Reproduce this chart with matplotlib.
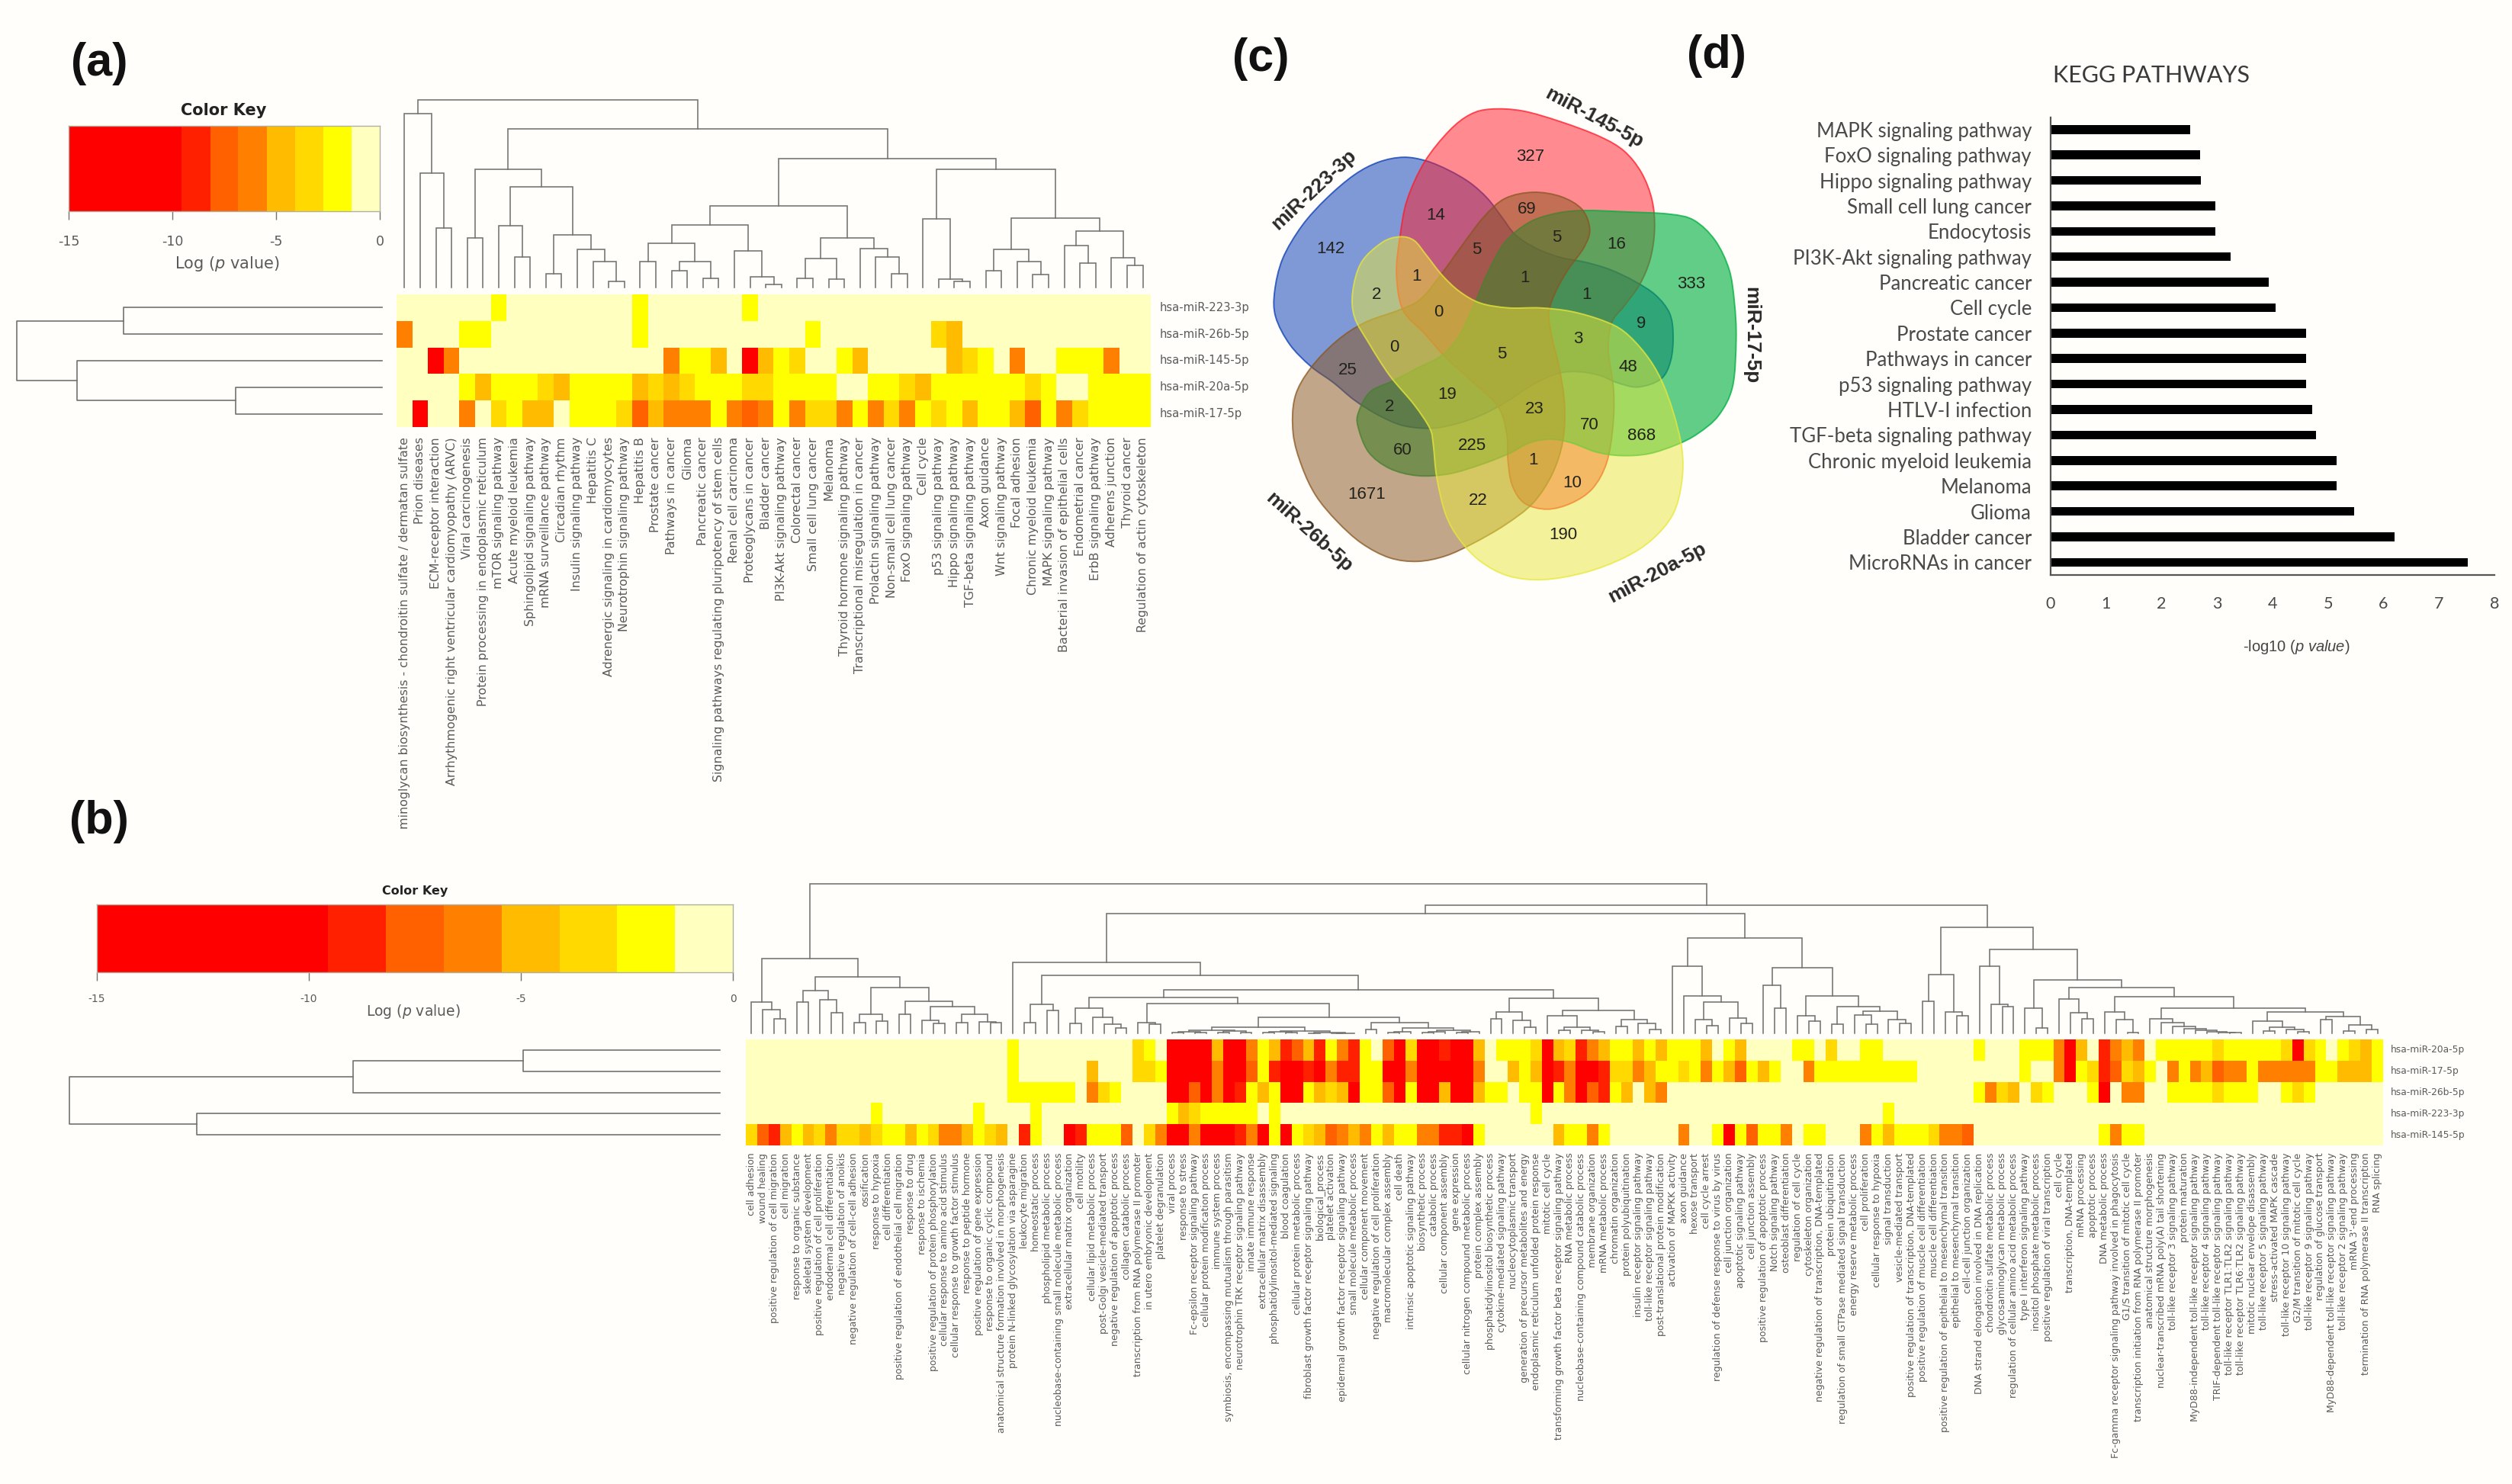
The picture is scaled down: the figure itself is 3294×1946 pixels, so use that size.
import numpy as np
import matplotlib
matplotlib.use("Agg")
import matplotlib.pyplot as plt
from matplotlib.colors import ListedColormap, BoundaryNorm
from matplotlib.patches import PathPatch
from matplotlib.path import Path

W, H = 3294, 1946
plt.rcParams['axes.unicode_minus'] = False
plt.rcParams['mathtext.fontset'] = 'dejavusans'
plt.rcParams['mathtext.it'] = 'Liberation Sans:italic'

# ---------------- colour key ----------------
KEY_BREAKS = [-15, -9.55, -8.18, -6.82, -5.45, -4.09, -2.73, -1.36, 0]
KEY_COLORS = ['#FF0000', '#FF2000', '#FF6000', '#FF8000', '#FFBB00', '#FFD900', '#FFFF00', '#FFFFBF']
# estimated Log(p) for each colour class 0 (pale) .. 7 (red)
CLASS_LOGP = [-0.7, -2.0, -3.4, -4.8, -6.1, -7.5, -8.9, -12.0]

# ---------------- panel (a) ----------------
A_MIRNAS = ['hsa-miR-223-3p', 'hsa-miR-26b-5p', 'hsa-miR-145-5p', 'hsa-miR-20a-5p', 'hsa-miR-17-5p']
A_TERMS = ['minoglycan biosynthesis - chondroitin sulfate / dermatan sulfate', 'Prion diseases',
 'ECM-receptor interaction', 'Arrhythmogenic right ventricular cardiomyopathy (ARVC)', 'Viral carcinogenesis',
 'Protein processing in endoplasmic reticulum', 'mTOR signaling pathway', 'Acute myeloid leukemia',
 'Sphingolipid signaling pathway', 'mRNA surveillance pathway', 'Circadian rhythm', 'Insulin signaling pathway',
 'Hepatitis C', 'Adrenergic signaling in cardiomyocytes', 'Neurotrophin signaling pathway', 'Hepatitis B',
 'Prostate cancer', 'Pathways in cancer', 'Glioma', 'Pancreatic cancer',
 'Signaling pathways regulating pluripotency of stem cells', 'Renal cell carcinoma', 'Proteoglycans in cancer',
 'Bladder cancer', 'PI3K-Akt signaling pathway', 'Colorectal cancer', 'Small cell lung cancer', 'Melanoma',
 'Thyroid hormone signaling pathway', 'Transcriptional misregulation in cancer', 'Prolactin signaling pathway',
 'Non-small cell lung cancer', 'FoxO signaling pathway', 'Cell cycle', 'p53 signaling pathway',
 'Hippo signaling pathway', 'TGF-beta signaling pathway', 'Axon guidance', 'Wnt signaling pathway',
 'Focal adhesion', 'Chronic myeloid leukemia', 'MAPK signaling pathway', 'Bacterial invasion of epithelial cells',
 'Endometrial cancer', 'ErbB signaling pathway', 'Adherens junction', 'Thyroid cancer',
 'Regulation of actin cytoskeleton']
A_223 = "6:1 15:1 22:1"
A_26B = "0:4 4-5:1 15:1 26:1 34:2 35:3"
A_145 = "2:7 3:4 17:4 18-19:1 20:3 22:7 23:3 24:1 25:2 28:1 29:3 35:3 36:2 37:1 39:4 42-44:1 45:4"
A_20A = "4:1 5:3 6-8:1 9:2 10:3 11-14:1 15:3 16:2 17:3 18:2 19-21:1 22-23:2 24-27:1 30-31:1 32:2 33:3 34-39:1 40:2 41:1 44-47:1"
A_17 = ("1:7 4:4 6:2 7:1 8-9:3 11-13:1 14:2 15:5 16:3 17:4 18-19:4 20:1 21:4 22:5 23:4 24:1 25:4 26-27:2 28:4 29:1 "
        "30:4 31:2 32:4 33:1 34:2 35:1 36:3 37-38:1 39:3 40:5 41:1 42:4 43:2 44-47:1")
# dendrogram nodes: (level, left, right); integer = leaf column
A_TREE = (93,
  (146, 0, (382, 1, (598, 2, 3))),
  (207,
    (367, (637, 4, 5),
      (436, (587, 6, (710, 7, 8)),
        (624, (778, 9, 10), (682, 11, (730, 12, (808, 13, 14)))))),
    (325,
      (509,
        (584,
          (656, (730, 15, 16), (730, (766, 17, 18), (794, 19, 20))),
          (688, 21, (790, 22, (818, 23, 24)))),
        (637,
          (718, (796, 25, 26), (798, 27, 28)),
          (677, 29, (712, 30, (777, 31, 32))))),
      (367,
        (562, 33, (798, 34, (806, 35, 36))),
        (557,
          (682, (764, 37, 38), (730, 39, (780, 40, 41))),
          (608, (666, 42, (736, 43, 44)), (714, 45, (744, 46, 47))))))))
A_TREE_BASE = 830
A_ROW_TREE = (479, (339, 0, 1), (400, 2, (192, 3, 4)))

# ---------------- panel (b) ----------------
B_MIRNAS = ['hsa-miR-20a-5p', 'hsa-miR-17-5p', 'hsa-miR-26b-5p', 'hsa-miR-223-3p', 'hsa-miR-145-5p']
B_TERMS = ['cell adhesion', 'wound healing', 'positive regulation of cell migration', 'cell migration',
 'response to organic substance', 'skeletal system development', 'positive regulation of cell proliferation',
 'endodermal cell differentiation', 'negative regulation of anoikis', 'negative regulation of cell-cell adhesion',
 'ossification', 'response to hypoxia', 'cell differentiation', 'positive regulation of endothelial cell migration',
 'response to drug', 'response to ischemia', 'positive regulation of protein phosphorylation',
 'cellular response to amino acid stimulus', 'cellular response to growth factor stimulus',
 'response to peptide hormone', 'positive regulation of gene expression', 'response to organic cyclic compound',
 'anatomical structure formation involved in morphogenesis', 'protein N-linked glycosylation via asparagine',
 'leukocyte migration', 'homeostatic process', 'phospholipid metabolic process',
 'nucleobase-containing small molecule metabolic process', 'extracellular matrix organization', 'cell motility',
 'cellular lipid metabolic process', 'post-Golgi vesicle-mediated transport', 'negative regulation of apoptotic process',
 'collagen catabolic process', 'transcription from RNA polymerase II promoter', 'in utero embryonic development',
 'platelet degranulation', 'viral process', 'response to stress', 'Fc-epsilon receptor signaling pathway',
 'cellular protein modification process', 'immune system process', 'symbiosis, encompassing mutualism through parasitism',
 'neurotrophin TRK receptor signaling pathway', 'innate immune response', 'extracellular matrix disassembly',
 'phosphatidylinositol-mediated signaling', 'blood coagulation', 'cellular protein metabolic process',
 'fibroblast growth factor receptor signaling pathway', 'biological_process', 'platelet activation',
 'epidermal growth factor receptor signaling pathway', 'small molecule metabolic process', 'cellular component movement',
 'negative regulation of cell proliferation', 'macromolecular complex assembly', 'cell death',
 'intrinsic apoptotic signaling pathway', 'biosynthetic process', 'catabolic process', 'cellular component assembly',
 'gene expression', 'cellular nitrogen compound metabolic process', 'protein complex assembly',
 'phosphatidylinositol biosynthetic process', 'cytokine-mediated signaling pathway', 'nucleocytoplasmic transport',
 'generation of precursor metabolites and energy', 'endoplasmic reticulum unfolded protein response', 'mitotic cell cycle',
 'transforming growth factor beta receptor signaling pathway', 'RNA metabolic process',
 'nucleobase-containing compound catabolic process', 'membrane organization', 'mRNA metabolic process',
 'chromatin organization', 'protein polyubiquitination', 'insulin receptor signaling pathway',
 'toll-like receptor signaling pathway', 'post-translational protein modification', 'activation of MAPKK activity',
 'axon guidance', 'hexose transport', 'cell cycle arrest', 'regulation of defense response to virus by virus',
 'cell junction organization', 'apoptotic signaling pathway', 'cell junction assembly',
 'positive regulation of apoptotic process', 'Notch signaling pathway', 'osteoblast differentiation',
 'regulation of cell cycle', 'cytoskeleton organization', 'negative regulation of transcription, DNA-templated',
 'protein ubiquitination', 'regulation of small GTPase mediated signal transduction', 'energy reserve metabolic process',
 'cell proliferation', 'cellular response to hypoxia', 'signal transduction', 'vesicle-mediated transport',
 'positive regulation of transcription, DNA-templated', 'positive regulation of muscle cell differentiation',
 'muscle cell differentiation', 'positive regulation of epithelial to mesenchymal transition',
 'epithelial to mesenchymal transition', 'cell-cell junction organization',
 'DNA strand elongation involved in DNA replication', 'chondroitin sulfate metabolic process',
 'glycosaminoglycan metabolic process', 'regulation of cellular amino acid metabolic process',
 'type I interferon signaling pathway', 'inositol phosphate metabolic process', 'positive regulation of viral transcription',
 'cell cycle', 'transcription, DNA-templated', 'mRNA processing', 'apoptotic process', 'DNA metabolic process',
 'Fc-gamma receptor signaling pathway involved in phagocytosis', 'G1/S transition of mitotic cell cycle',
 'transcription initiation from RNA polymerase II promoter', 'anatomical structure morphogenesis',
 'nuclear-transcribed mRNA poly(A) tail shortening', 'toll-like receptor 3 signaling pathway', 'protein maturation',
 'MyD88-independent toll-like receptor signaling pathway', 'toll-like receptor 4 signaling pathway',
 'TRIF-dependent toll-like receptor signaling pathway', 'toll-like receptor TLR1:TLR2 signaling pathway',
 'toll-like receptor TLR6:TLR2 signaling pathway', 'mitotic nuclear envelope disassembly',
 'toll-like receptor 5 signaling pathway', 'stress-activated MAPK cascade', 'toll-like receptor 10 signaling pathway',
 'G2/M transition of mitotic cell cycle', 'toll-like receptor 9 signaling pathway', 'regulation of glucose transport',
 'MyD88-dependent toll-like receptor signaling pathway', 'toll-like receptor 2 signaling pathway',
 "mRNA 3'-end processing", 'termination of RNA polymerase II transcription', 'RNA splicing']
B_20A = ("23:1 34:2 35:1 37-40:7 41:3 42-43:7 44:4 45:1 46:3 47:6 48:5 49:3 50:6 51:1 52:4 53:6 54:1 56:5 57:7 58:2 "
         "59-60:7 61:6 62-63:7 64:3 66-68:1 69:2 70:7 71:3 72:2 73:6 74:4 75:3 76-77:1 78:3 79:1 80:3 81-83:1 84:3 "
         "86:1 87:3 92-93:1 95:2 98-99:1 108:1 112-114:1 115:4 116:7 117:3 119:6 120:4 121:3 122:4 124-128:1 129:2 "
         "130-134:1 135:2 136:7 137:2 138:1 140:1 141:2 142:3 143:1")
B_17 = ("23:1 30:3 34-35:2 36:1 37-40:7 41:4 42-43:7 44:5 45:1 46:6 47-48:7 49:6 50:7 51:4 52-53:6 54-55:1 56-57:7 58:4 "
        "59-63:7 64:4 67:3 68:1 69:3 70:7 71:6 72:4 73-74:7 75:6 76-77:2 78:4 79:3 80-81:1 82:2 83:1 84:4 85:1 86:3 87:5 "
        "88:1 89:3 90:1 93:4 94-102:1 112:1 115:4 116:7 117:1 118:2 119:6 120:5 121:2 122:3 123:1 125:4 126:1 127:4 128:3 "
        "129:5 130-131:4 132:1 133-137:4 138-139:1 140-142:3 143:1")
B_26B = ("23-28:1 30:4 31:2 32:1 37-38:7 39:5 40:7 41:4 42:7 43:6 44:1 45:3 46:1 47-48:7 49:1 50:3 51:2 52:3 53:7 54-55:1 "
         "56:5 57:7 58:1 59-60:7 61:3 62-63:7 64:3 65-66:1 68-69:1 70:7 71:1 72:4 73:7 74:5 75:6 76:1 77:3 79:3 80:4 108:1 "
         "109:4 110:2 111:3 113:2 114:1 118:1 119:7 121-122:4 125-128:1 129:2 130-132:1 135:1 136:2 137:1")
B_223 = "11:1 20:1 25:1 37:1 38:3 39:2 40-44:1 46:1 69:1 100:1"
B_145 = ("0:2 1:5 2:6 3:3 4:1 5:3 6:2 7:4 8-9:2 10:3 11:2 12-13:1 14:3 15:1 16:2 17-18:4 19:3 20:1 21:2 22:3 24:6 25:1 28:7 "
         "29:6 30-32:1 33:5 35:2 36:4 37-38:7 39:4 40-42:7 43:6 44:4 45:7 46:1 47:7 48:1 49:2 50:3 51:5 52:4 53:3 54:4 55:1 "
         "56:3 57-58:1 59-60:4 61-62:6 63:7 64:1 71:3 72-73:1 74:4 75:1 82:4 85:1 86:7 87:1 88:5 89-90:1 91:4 93-94:1 98:4 "
         "99:1 100:3 101-103:1 104:2 105-106:4 107:5 119:1 120:4 121-122:1")
B_TREE = (27,
  (320,
    (493, 0, (522, 1, (557, 2, 3))),
    (393,
      (446, (493, 4, 5), (484, 6, (535, 7, 8))),
      (436,
        (541, (574, 9, 10), (568, 11, 12)),
        (488, (541, 13, 14),
          (510, (565, 15, (577, 16, 17)),
            (539, (573, 18, 19), (569, 20, (573, 21, 22)))))))),
  (110,
    (143,
      (337, 23,
        (388,
          (501, (574, 24, 25), (524, 26, 27)),
          (444,
            (473,
              (515, (577, 28, 29), (552, 30, (580, 31, (594, 32, 33)))),
              (497,
                (573, 34, (580, 35, 36)),
                (551,
                  (592,
                    (604, (609, (613, 37, 38), (613, 39, 40)), (606, (612, 41, 42), (612, 43, 44))),
                    (606, (608, (611, 45, 46), (613, 47, 48)), (611, (614, 49, 50), (615, (615, 51, 52), 53)))),
                  (572,
                    (600, 54, 55),
                    (593,
                      (608, (612, 56, 57), 58),
                      (604, (608, (612, 59, 60), 61), (608, (611, 62, 63), 64))))))),
            (478,
              (530, (557, 65, 66), (563, 67, (590, 68, 69))),
              (525,
                (546, 70, (590, (604, 71, 72), (604, 73, (609, 74, 75)))),
                (562, (587, 76, 77), (575, 78, (600, 79, 80)))))))),
      (241,
        (352, 81, (467, 82, (493, (562, 83, (585, 84, 85)), (555, 86, (575, 87, 88))))),
        (358,
          (425, 89, (515, 90, 91)),
          (469,
            (545, 92, (568, 93, 94)),
            (510, (580, 95, 96),
              (527, (543, 97, (578, 98, 99)), (562, 100, (577, 101, 102)))))))),
    (197,
      (384, (488, 103, 104), (532, 105, (546, 106, 107))),
      (286,
        (352, 108, (500, 109, (510, 110, 111))),
        (405,
          (515, 112, (593, 113, 114)),
          (436,
            (480, 115, (535, 116, (558, 117, 118))),
            (472,
              (532, 119, (562, 120, (612, 121, 122))),
              (515,
                (557, 123, (573, 124, (588, 125, (597, 126, (604, 127, (608, 128, (611, 129, (613, 130, 131)))))))),
                (530,
                  (568, 132, (590, (605, 133, 134), (600, 135, (610, 136, 137)))),
                  (550, (562, 138, 139), (582, (607, 140, 141), (600, 142, 143))))))))))))
B_TREE_BASE = 616
B_ROW_TREE = (853, (481, (258, 0, 1), 2), (686, 3, 4))

# ---------------- panel (c) ----------------
VENN_BLUE = [(480,222),(545,232),(610,258),(670,292),(720,335),(760,385),(800,435),(860,472),(930,497),(1000,510),
  (1070,530),(1140,562),(1200,600),(1240,650),(1250,710),(1243,780),(1215,830),(1150,852),(1090,840),(1040,820),
  (980,810),(920,815),(850,845),(770,895),(700,930),(630,953),(560,965),(480,958),(410,930),(340,888),(280,840),
  (215,795),(155,735),(115,660),(112,590),(135,500),(190,410),(260,335),(340,270),(410,235)]
VENN_RED = [(730,90),(820,95),(930,125),(1040,165),(1110,205),(1160,265),(1190,340),(1197,420),(1185,500),(1155,570),
  (1110,630),(1075,675),(1065,750),(1080,860),(1078,960),(1060,1060),(1020,1130),(960,1170),(890,1187),(825,1170),
  (790,1120),(778,1050),(775,980),(750,905),(680,840),(600,770),(540,705),(478,640),(460,540),(470,440),(490,340),
  (540,235),(610,150),(670,105)]
VENN_GREEN = [(1000,368),(1120,372),(1240,378),(1310,395),(1370,450),(1410,530),(1425,620),(1430,720),(1420,850),
  (1380,930),(1320,980),(1260,1010),(1180,1035),(1100,1040),(1030,1030),(960,1005),(900,995),(840,1005),(780,1035),
  (700,1065),(610,1090),(520,1095),(440,1075),(380,1030),(350,960),(352,920),(385,865),(450,835),(520,800),(590,765),
  (640,710),(680,630),(720,540),(770,455),(840,400),(920,375)]
VENN_YELLOW = [(470,440),(510,450),(545,490),(590,545),(640,590),(700,622),(780,635),(870,635),(960,645),(1050,670),
  (1110,700),(1170,760),(1215,830),(1250,920),(1275,1020),(1275,1110),(1250,1200),(1190,1270),(1110,1320),(1000,1360),
  (880,1380),(780,1370),(700,1330),(640,1270),(600,1200),(575,1100),(565,1010),(555,965),(510,900),(440,820),(380,730),
  (340,660),(335,590),(360,510),(420,455)]
VENN_BROWN = [(470,640),(530,610),(590,540),(650,460),(710,385),(770,335),(850,318),(930,330),(990,365),(1012,420),
  (995,470),(950,530),(915,590),(895,650),(905,720),(925,800),(940,900),(935,1000),(905,1090),(850,1170),(770,1230),
  (680,1280),(600,1315),(520,1330),(440,1320),(360,1280),(290,1220),(230,1150),(190,1070),(165,980),(170,880),(215,800),
  (290,725),(370,675)]
VENN_COUNTS = ['327','142','14','69','5','5','16','333','1','2','1','1','0','9','0','5','3','48','25','19','2','23','70',
  '868','60','225','1','10','1671','22','190']
VENN_COUNT_X = [843,272,572,833,688,917,1088,1302,518,403,826,1002,580,1158,454,760,978,1122,320,605,441,855,1012,1160,
  478,677,850,962,375,692,937]
VENN_COUNT_Y = [220,474,382,365,475,442,462,570,548,598,552,600,648,678,743,762,720,797,806,873,906,912,957,985,1025,1013,
  1053,1115,1147,1163,1257]

# ---------------- panel (d) ----------------
KEGG_TERMS = ['MAPK signaling pathway','FoxO signaling pathway','Hippo signaling pathway','Small cell lung cancer',
  'Endocytosis','PI3K-Akt signaling pathway','Pancreatic cancer','Cell cycle','Prostate cancer','Pathways in cancer',
  'p53 signaling pathway','HTLV-I infection','TGF-beta signaling pathway','Chronic myeloid leukemia','Melanoma','Glioma',
  'Bladder cancer','MicroRNAs in cancer']
KEGG_VALUES = [2.52,2.69,2.71,2.97,2.97,3.24,3.93,4.06,4.6,4.6,4.6,4.71,4.78,5.16,5.16,5.47,6.2,7.52]


# ---------------- helpers ----------------
fig = plt.figure(figsize=(W/100, H/100), dpi=100, facecolor='#FFFEFB')
cmap = ListedColormap(KEY_COLORS)
norm = BoundaryNorm(KEY_BREAKS, cmap.N)
GRAY = '#727272'
TXT = '#5a5a5a'

def axpx(x0, y0, x1, y1):
    return fig.add_axes([x0/W, 1-y1/H, (x1-x0)/W, (y1-y0)/H])

def decode(spec, n):
    cls = [0]*n
    for item in spec.split():
        rng, lvl = item.split(':')
        a, _, b = rng.partition('-')
        for c in range(int(a), int(b or a)+1):
            cls[c] = int(lvl)
    return [CLASS_LOGP[c] for c in cls]

def heat(ax, rows, terms, mirnas, xfs, yx, yfs, lpad):
    mat = np.array(rows)
    ax.imshow(mat, cmap=cmap, norm=norm, aspect='auto', interpolation='nearest',
              extent=(0, len(terms), len(rows), 0))
    ax.set_xticks(np.arange(len(terms))+.5, terms, rotation=90, fontsize=xfs, color=TXT)
    ax.set_yticks([])
    ax.tick_params(axis='x', length=0, pad=lpad)
    for s in ax.spines.values():
        s.set_visible(False)
    for i, m in enumerate(mirnas):
        ax.annotate(m, (1, i+.5), xycoords=ax.get_yaxis_transform(), xytext=(yx, 0),
                    textcoords='offset pixels', va='center', ha='left', fontsize=yfs, color=TXT)

def col_tree(ax, node, base):
    if isinstance(node, int):
        return node+.5, 0
    x1, h1 = col_tree(ax, node[1], base)
    x2, h2 = col_tree(ax, node[2], base)
    h = base-node[0]
    ax.plot([x1, x1, x2, x2], [h1, h, h, h2], color=GRAY, lw=1.15, solid_joinstyle='miter', clip_on=False)
    return (x1+x2)/2, h

def row_tree(ax, node):
    if isinstance(node, int):
        return node+.5, 0
    y1, h1 = row_tree(ax, node[1])
    y2, h2 = row_tree(ax, node[2])
    ax.plot([h1, node[0], node[0], h2], [y1, y1, y2, y2], color=GRAY, lw=1.2, clip_on=False)
    return (y1+y2)/2, node[0]

def key(box, title_xy, label_xy, tfs, lfs, ttfs, tickpad):
    ax = axpx(*box)
    ax.pcolormesh(KEY_BREAKS, [0, 1], np.array([[(a+b)/2 for a, b in zip(KEY_BREAKS, KEY_BREAKS[1:])]]),
                  cmap=cmap, norm=norm)
    ax.set_xlim(-15, 0)
    ax.set_yticks([])
    ax.set_xticks([-15, -10, -5, 0], ['-15', '-10', '-5', '0'], fontsize=tfs, color=TXT)
    ax.tick_params(axis='x', length=8, width=1, color=GRAY, pad=tickpad)
    for s in ax.spines.values():
        s.set_color('#b0b0a0')
        s.set_linewidth(1)
    fig.text(title_xy[0]/W, 1-title_xy[1]/H, 'Color Key', fontsize=ttfs, fontweight='bold',
             ha='center', va='center', color='#222222')
    fig.text(label_xy[0]/W, 1-label_xy[1]/H, r'Log ($\mathit{p}$ value)', fontsize=lfs,
             ha='center', va='center', color=TXT, math_fontfamily='dejavusans')

def smooth_path(pts):
    p = np.array(pts, float)
    n = len(p)
    verts, codes = [p[0]], [Path.MOVETO]
    for i in range(n):
        p0, p1, p2, p3 = p[i-1], p[i], p[(i+1) % n], p[(i+2) % n]
        verts += [p1+(p2-p0)/6, p2-(p3-p1)/6, p2]
        codes += [Path.CURVE4]*3
    return Path(verts, codes)

# ---------------- draw (a) ----------------
key((90, 165, 498, 277), (293, 145), (298, 346), 12.5, 15, 15, 14)
ax = axpx(520, 386, 1509, 560)
heat(ax, [decode(s, 48) for s in (A_223, A_26B, A_145, A_20A, A_17)], A_TERMS, A_MIRNAS, 11.4, 12, 10.6, 9.5)
ax = axpx(520, 131, 1509, 376.7)
ax.set_xlim(0, 48); ax.set_ylim(0, A_TREE_BASE-93); ax.axis('off')
col_tree(ax, A_TREE, A_TREE_BASE)
ax = axpx(22, 386, 501, 560)
ax.set_xlim(479, 0); ax.set_ylim(5, 0); ax.axis('off')
row_tree(ax, A_ROW_TREE)

# ---------------- draw (b) ----------------
key((127, 1186, 961, 1275), (544, 1169), (542, 1327), 10, 13.5, 11.5, 12)
ax = axpx(978, 1363, 3125, 1502)
heat(ax, [decode(s, 144) for s in (B_20A, B_17, B_26B, B_223, B_145)], B_TERMS, B_MIRNAS, 9.0, 10, 8.8, 7)
ax = axpx(978, 1159, 3125, 1355.3)
ax.set_xlim(0, 144); ax.set_ylim(0, B_TREE_BASE-27); ax.axis('off')
col_tree(ax, B_TREE, B_TREE_BASE)
ax = axpx(91, 1363, 944, 1502)
ax.set_xlim(853, 0); ax.set_ylim(5, 0); ax.axis('off')
row_tree(ax, B_ROW_TREE)

# ---------------- draw (c) ----------------
ax = axpx(1620, 100, 2340, 850)
ax.set_xlim(0, 1568); ax.set_ylim(1568, 0); ax.axis('off')
for pts, col, a in ((VENN_BLUE, '#0A3CB4', 0.52), (VENN_RED, '#FF1A28', 0.5), (VENN_GREEN, '#00AF3F', 0.62),
                    (VENN_BROWN, '#8A5620', 0.52), (VENN_YELLOW, '#E8E83A', 0.5)):
    ax.add_patch(PathPatch(smooth_path(pts), facecolor=col, alpha=a, edgecolor='none'))
    ax.add_patch(PathPatch(smooth_path(pts), facecolor='none', edgecolor=col, alpha=0.75, lw=1.4))
for t, x, y in zip(VENN_COUNTS, VENN_COUNT_X, VENN_COUNT_Y):
    ax.text(x, y, t, ha='center', va='center', fontsize=16, color='#22221c', family='Liberation Sans')
for t, x, y, r in (('miR-145-5p', 1025, 115, -28), ('miR-223-3p', 225, 310, 43), ('miR-17-5p', 1472, 710, -90),
                   ('miR-26b-5p', 210, 1250, -42), ('miR-20a-5p', 1205, 1362, 28)):
    ax.text(x, y, t, ha='center', va='center', rotation=r, rotation_mode='anchor', fontsize=19,
            color='#2a2a2a', family='Liberation Sans', fontweight='bold')

# ---------------- draw (d) ----------------
ax = axpx(2689, 154, 3271, 754)
ax.set_facecolor('none')
ypos = np.arange(len(KEGG_TERMS))
ax.barh(ypos, KEGG_VALUES, height=0.345, color='black')
ax.set_xlim(0, 8); ax.set_ylim(17.5, -0.473)
ax.set_yticks(ypos, KEGG_TERMS, fontsize=18.5, color='#4a4a4a', family='Lato')
ax.set_xticks(range(9), [str(i) for i in range(9)], fontsize=15.5, color='#4a4a4a', family='Lato')
ax.tick_params(axis='y', length=0, pad=18)
ax.tick_params(axis='x', length=0, pad=20)
for s in ('top', 'right'):
    ax.spines[s].set_visible(False)
for s in ('left', 'bottom'):
    ax.spines[s].set_color('#555555'); ax.spines[s].set_linewidth(1.6)
fig.text(2821/W, 1-99/H, 'KEGG PATHWAYS', fontsize=22, ha='center', va='center', color='#3a3a3a', family='Lato')
fig.text(3011/W, 1-848/H, r'-log10 ($\mathit{p\ value}$)', fontsize=14.5, ha='center', va='center',
         color='#444444', family='Liberation Sans', math_fontfamily='custom')

# ---------------- panel letters ----------------
for t, x, y in (('(a)', 130, 84), ('(b)', 130, 1078), ('(c)', 1653, 78), ('(d)', 2251, 74)):
    fig.text(x/W, 1-y/H, t, fontsize=44, fontweight='bold', ha='center', va='center', color='#111111',
             family='Liberation Sans')

fig.savefig('out.png', dpi=100, facecolor=fig.get_facecolor())
